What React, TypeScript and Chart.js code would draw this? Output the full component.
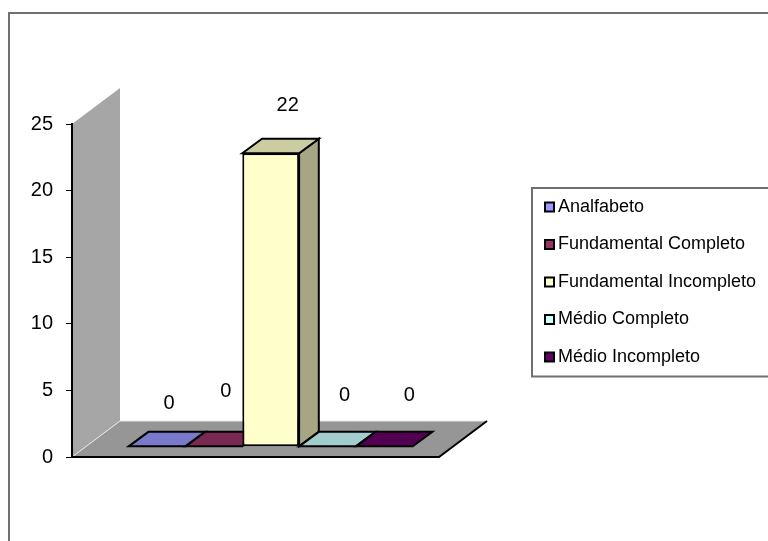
import React, { useEffect, useRef } from "react";
import { Chart, registerables } from "chart.js";

Chart.register(...registerables);

const seriesNames = [
  "Analfabeto",
  "Fundamental Completo",
  "Fundamental Incompleto",
  "Médio Completo",
  "Médio Incompleto",
];
const seriesValues = [0, 0, 22, 0, 0];
const seriesColors = ["#9999ff", "#993366", "#ffffcc", "#ccffff", "#660066"];
const categories = [""];

const FAMILY = '"Liberation Sans", Arial, sans-serif';
const LEGEND_FONT = `18px ${FAMILY}`;
const VALUE_FONT = `20px ${FAMILY}`;
const WIDTH = 768;
const HEIGHT = 541;
// The plot area runs on past the floor by this much, so that the blocks sit
// in the middle of the floor's depth rather than on its front edge.
const FLOOR_INSET = 30.4;

// Darkens a hex colour for the shaded faces of a block.
function shade(hex: string, k: number): string {
  const n = parseInt(hex.slice(1), 16);
  const r = Math.round(((n >> 16) & 255) * k);
  const g = Math.round(((n >> 8) & 255) * k);
  const b = Math.round((n & 255) * k);
  return `rgb(${r},${g},${b})`;
}

function poly(ctx: CanvasRenderingContext2D, pts: number[][], fill?: string, stroke?: string, lw = 2) {
  ctx.beginPath();
  pts.forEach(([x, y], i) => (i ? ctx.lineTo(x, y) : ctx.moveTo(x, y)));
  ctx.closePath();
  if (fill) {
    ctx.fillStyle = fill;
    ctx.fill();
  }
  if (stroke) {
    ctx.strokeStyle = stroke;
    ctx.lineWidth = lw;
    ctx.lineJoin = "miter";
    ctx.stroke();
  }
}

// Outer frame, legend panel, side wall and floor of the 3D scene.
const scenePlugin = {
  id: "scene",
  beforeDraw(chart: any) {
    const { ctx, chartArea: a } = chart;
    const wallDx = 48;
    const wallDy = -36;
    const floorRight = a.right - FLOOR_INSET;
    ctx.save();

    ctx.strokeStyle = "#707070";
    ctx.lineWidth = 2;
    ctx.beginPath();
    ctx.moveTo(9, HEIGHT);
    ctx.lineTo(9, 13);
    ctx.lineTo(WIDTH, 13);
    ctx.stroke();

    poly(ctx, [
      [a.left, a.bottom],
      [a.left, a.top],
      [a.left + wallDx, a.top + wallDy],
      [a.left + wallDx, a.bottom + wallDy],
    ], "#a6a6a6");
    poly(ctx, [
      [a.left, a.bottom],
      [floorRight, a.bottom],
      [floorRight + wallDx, a.bottom + wallDy],
      [a.left + wallDx, a.bottom + wallDy],
    ], "#969696");

    ctx.strokeStyle = "#e8e8e8";
    ctx.lineWidth = 1;
    ctx.beginPath();
    ctx.moveTo(a.left, a.bottom);
    ctx.lineTo(a.left + wallDx, a.bottom + wallDy);
    ctx.lineTo(floorRight + wallDx, a.bottom + wallDy);
    ctx.stroke();

    ctx.strokeStyle = "#000";
    ctx.lineWidth = 2;
    ctx.beginPath();
    ctx.moveTo(a.left, a.bottom);
    ctx.lineTo(floorRight, a.bottom);
    ctx.lineTo(floorRight + wallDx, a.bottom + wallDy);
    ctx.stroke();

    // Legend panel, open past the canvas edge on the right
    ctx.strokeStyle = "#707070";
    ctx.lineWidth = 2;
    ctx.beginPath();
    ctx.moveTo(WIDTH, 188);
    ctx.lineTo(532, 188);
    ctx.lineTo(532, 376.5);
    ctx.lineTo(WIDTH, 376.5);
    ctx.stroke();

    ctx.font = LEGEND_FONT;
    ctx.textBaseline = "middle";
    ctx.textAlign = "left";
    chart.data.datasets.forEach((ds: any, i: number) => {
      const y = 207 + i * 37.5;
      ctx.fillStyle = "#000";
      ctx.fillRect(544, y - 5.5, 11, 11);
      ctx.fillStyle = ds.backgroundColor;
      ctx.fillRect(546, y - 3.5, 7, 7);
      ctx.fillStyle = "#000";
      ctx.fillText(ds.label, 558, y);
    });
    ctx.restore();
  },
  // Top and side faces go under the front faces drawn by the bar elements
  beforeDatasetsDraw(chart: any) {
    const { ctx } = chart;
    const dx = 19.7;
    const dy = -14.5;
    ctx.save();
    chart.data.datasets.forEach((ds: any, i: number) => {
      const bar = chart.getDatasetMeta(i).data[0];
      const l = bar.x - bar.width / 2;
      const r = bar.x + bar.width / 2;
      const t = bar.y;
      const b = bar.base;
      if (b - t > 0.5) {
        poly(ctx, [[r, t], [r + dx, t + dy], [r + dx, b + dy], [r, b]], shade(ds.backgroundColor, 0.65), "#000");
      }
      poly(ctx, [[l, t], [l + dx, t + dy], [r + dx, t + dy], [r, t]], shade(ds.backgroundColor, 0.8), "#000");
    });
    ctx.restore();
  },
  afterDatasetsDraw(chart: any) {
    const { ctx } = chart;
    // Hand-placed value labels, relative to each block's top edge
    const labelShift = [[12, -43], [12, -55], [17, -48], [17, -51], [25, -51]];
    ctx.save();
    ctx.font = VALUE_FONT;
    ctx.fillStyle = "#000";
    ctx.textAlign = "center";
    ctx.textBaseline = "middle";
    chart.data.datasets.forEach((ds: any, i: number) => {
      const bar = chart.getDatasetMeta(i).data[0];
      ctx.fillText(String(ds.data[0]), bar.x + labelShift[i][0], bar.y + labelShift[i][1]);
    });
    ctx.restore();
  },
};

export default function App() {
  const ref = useRef<HTMLCanvasElement>(null);

  useEffect(() => {
    const chart = new Chart(ref.current!, {
      type: "bar",
      data: {
        labels: categories,
        datasets: seriesNames.map((name, i) => ({
          label: name,
          data: [seriesValues[i]],
          backgroundColor: seriesColors[i],
          borderColor: "#000",
          borderWidth: 2,
          borderSkipped: false,
          yAxisID: "blocks",
          categoryPercentage: 0.7147,
          barPercentage: 1,
        })),
      },
      options: {
        animation: false,
        responsive: false,
        layout: { padding: { left: 0, top: 124, right: 298.6, bottom: 84 } },
        plugins: { legend: { display: false }, tooltip: { enabled: false }, title: { display: false } },
        scales: {
          x: { display: false },
          y: {
            position: "left",
            min: 0,
            max: 25,
            ticks: { stepSize: 5, color: "#000", font: { family: FAMILY, size: 20 }, padding: 13 },
            grid: { drawOnChartArea: false, drawTicks: true, tickLength: 6, tickColor: "#000", tickWidth: 1 },
            border: { display: true, color: "#000", width: 2 },
            afterFit(scale: any) {
              scale.width = 72;
            },
          },
          // Blocks stand a little behind the front edge of the floor
          blocks: { display: false, position: "left", min: -0.8, max: 24.2 },
        },
      } as any,
      plugins: [scenePlugin],
    });
    return () => chart.destroy();
  }, []);

  return (
    <canvas
      ref={ref}
      width={WIDTH}
      height={HEIGHT}
      style={{ position: "absolute", left: 0, top: 0, width: WIDTH, height: HEIGHT, display: "block" }}
    />
  );
}
